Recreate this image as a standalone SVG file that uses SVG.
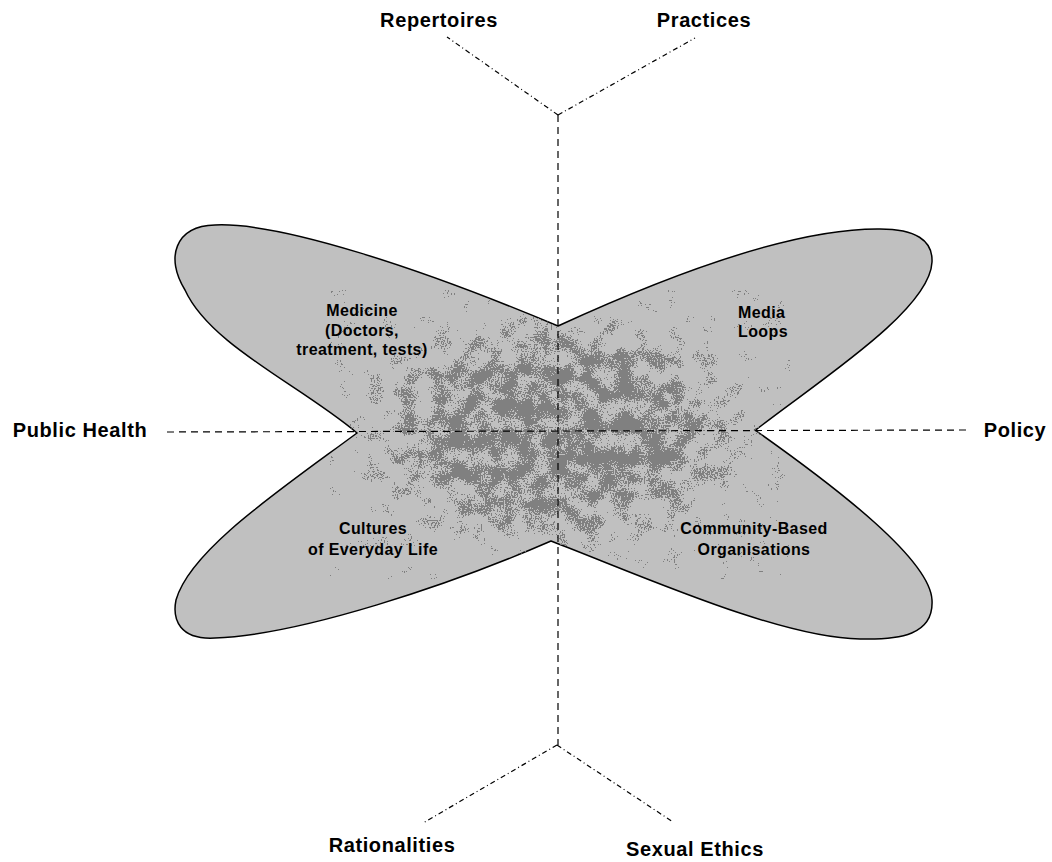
<svg xmlns="http://www.w3.org/2000/svg" width="1052" height="862" viewBox="0 0 1052 862">
<style>
.lbl{font-family:"Liberation Sans",Arial,sans-serif;font-weight:bold;font-size:20px;letter-spacing:0.6px;fill:#000;text-anchor:middle}
.in{font-family:"Liberation Sans",Arial,sans-serif;font-weight:bold;font-size:16px;letter-spacing:0.4px;fill:#000;text-anchor:middle}
.axis{fill:none;stroke:#000;stroke-width:1.2;stroke-dasharray:7 5}
.diag{fill:none;stroke:#000;stroke-width:1.2;stroke-dasharray:5 3 1 3}
.shape{fill:#c0c0c0;stroke:#000;stroke-width:1.5}
</style>
<defs>
<path id="outline" d="M558,326 C680,270 800,228 880,229 C915,229 933,240 932,262 C930,310 820,380 757,429 L755,430 C840,490 930,560 932,600 C934,635 900,640 860,639 C780,638 640,575 551,541 C450,585 300,635 215,638 C180,640 172,620 176,600 C190,550 280,490 357,433 C300,385 210,345 185,290 C165,258 175,226 215,225 C280,222 420,268 558,326 Z"/>
<clipPath id="clipShape"><use href="#outline"/></clipPath>
<radialGradient id="dens" cx="0.5" cy="0.5" r="0.5">
<stop offset="0" stop-color="#fff" stop-opacity="1"/>
<stop offset="0.55" stop-color="#fff" stop-opacity="0.85"/>
<stop offset="1" stop-color="#fff" stop-opacity="0"/>
</radialGradient>
<filter id="speck" filterUnits="userSpaceOnUse" x="330" y="290" width="460" height="290" color-interpolation-filters="sRGB">
<feTurbulence type="fractalNoise" baseFrequency="0.7" numOctaves="1" seed="3" result="t1"/>
<feColorMatrix in="t1" type="matrix" values="0 0 0 0 0  0 0 0 0 0  0 0 0 0 0  2.5 0 0 0 -0.75" result="f"/>
<feTurbulence type="fractalNoise" baseFrequency="0.06" numOctaves="2" seed="11" result="t2"/>
<feColorMatrix in="t2" type="matrix" values="0 0 0 0 0  0 0 0 0 0  0 0 0 0 0  2.5 0 0 0 -0.75" result="c"/>
<feComposite in="f" in2="c" operator="arithmetic" k1="0" k2="0.5" k3="0.5" k4="0" result="fc"/>
<feComposite in="fc" in2="SourceGraphic" operator="arithmetic" k1="0" k2="1" k3="0.5" k4="-0.4" result="sum"/>
<feComponentTransfer in="sum" result="mask"><feFuncA type="discrete" tableValues="0 1"/></feComponentTransfer>
<feFlood flood-color="#808080"/>
<feComposite in2="mask" operator="in"/>
</filter>
</defs>
<rect width="1052" height="862" fill="#fff"/>
<g id="petals">
<use href="#outline" class="shape"/>
<g clip-path="url(#clipShape)">
<rect x="340" y="300" width="432" height="264" fill="url(#dens)" filter="url(#speck)"/>
</g>
</g>
<g id="connectors">
<line class="axis" x1="558" y1="115" x2="558" y2="745"/>
<line class="axis" x1="167" y1="432" x2="968" y2="430"/>
<line class="diag" x1="558" y1="115" x2="447" y2="37"/>
<line class="diag" x1="558" y1="115" x2="695" y2="38"/>
<line class="diag" x1="557" y1="745" x2="423" y2="823"/>
<line class="diag" x1="557" y1="745" x2="673" y2="822"/>
</g>
<g id="node-repertoires"><text class="lbl" x="439" y="27">Repertoires</text></g>
<g id="node-practices"><text class="lbl" x="704" y="27">Practices</text></g>
<g id="node-public-health"><text class="lbl" x="80" y="437">Public Health</text></g>
<g id="node-policy"><text class="lbl" x="1015" y="437">Policy</text></g>
<g id="node-rationalities"><text class="lbl" x="392" y="852">Rationalities</text></g>
<g id="node-sexual-ethics"><text class="lbl" x="695" y="856">Sexual Ethics</text></g>
<g id="node-medicine"><text class="in" x="362" y="316">Medicine</text><text class="in" x="362" y="336">(Doctors,</text><text class="in" x="362" y="355">treatment, tests)</text></g>
<g id="node-media"><text class="in" x="738" y="318" style="text-anchor:start">Media</text><text class="in" x="738" y="337" style="text-anchor:start">Loops</text></g>
<g id="node-cultures"><text class="in" x="373" y="534">Cultures</text><text class="in" x="373" y="555">of Everyday Life</text></g>
<g id="node-cbo"><text class="in" x="754" y="534">Community-Based</text><text class="in" x="754" y="555">Organisations</text></g>
</svg>
